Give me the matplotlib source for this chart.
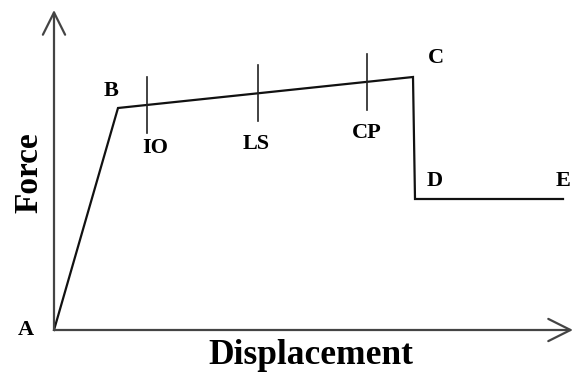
import matplotlib
matplotlib.use('Agg')
import matplotlib.pyplot as plt
import numpy as np

# backbone curve points A-B-C-D-E (displacement, force)
pts = ["A", "B", "C", "D", "E"]
disp = [0, 64, 359, 361, 509]
force = [0, 222, 253, 131, 131]

# performance levels marked on the B-C branch
levels = ["IO", "LS", "CP"]
level_disp = [93, 204, 313]

serif = "Liberation Serif"

fig = plt.figure(figsize=(5.75, 3.76), dpi=100)
ax = fig.add_axes([0, 0, 1, 1])
ax.set_xlim(-54, 521)
ax.set_ylim(-46, 330)
ax.axis("off")

# axes with open arrow heads
arrow = dict(arrowstyle="->,head_length=1.6,head_width=0.8", lw=1.6, color="#444444",
             shrinkA=0, shrinkB=0)
ax.annotate("", xy=(0, 320), xytext=(0, 0), arrowprops=arrow)
ax.annotate("", xy=(519, 0), xytext=(0, 0), arrowprops=arrow)

# backbone curve
ax.plot(disp, force, color="#111111", lw=1.6, solid_joinstyle="miter")

# level ticks centred on the curve, labels below
lab_off = {"IO": (8, -43), "LS": (-2, -51), "CP": (0, -51)}
for name, d in zip(levels, level_disp):
    f = np.interp(d, disp[1:3], force[1:3])
    ax.plot([d, d], [f - 28, f + 28], color="#222222", lw=1.2)
    dx, dy = lab_off[name]
    ax.text(d + dx, f + dy, name, ha="center", va="center",
            family=serif, weight="bold", fontsize=16)

# point labels
offs = {"A": (-28, 0), "B": (-7, 17), "C": (23, 19), "D": (20, 18), "E": (0, 18)}
for p, x, y in zip(pts, disp, force):
    dx, dy = offs[p]
    ax.text(x + dx, y + dy, p, ha="center", va="center", family=serif,
            weight="bold", fontsize=16)

ax.text(-25, 157, "Force", rotation=90, ha="center", va="center", family=serif,
        weight="bold", fontsize=24)
ax.text(257, -26, "Displacement", ha="center", va="center", family=serif,
        weight="bold", fontsize=25.5)

fig.savefig("out.png", dpi=100)
